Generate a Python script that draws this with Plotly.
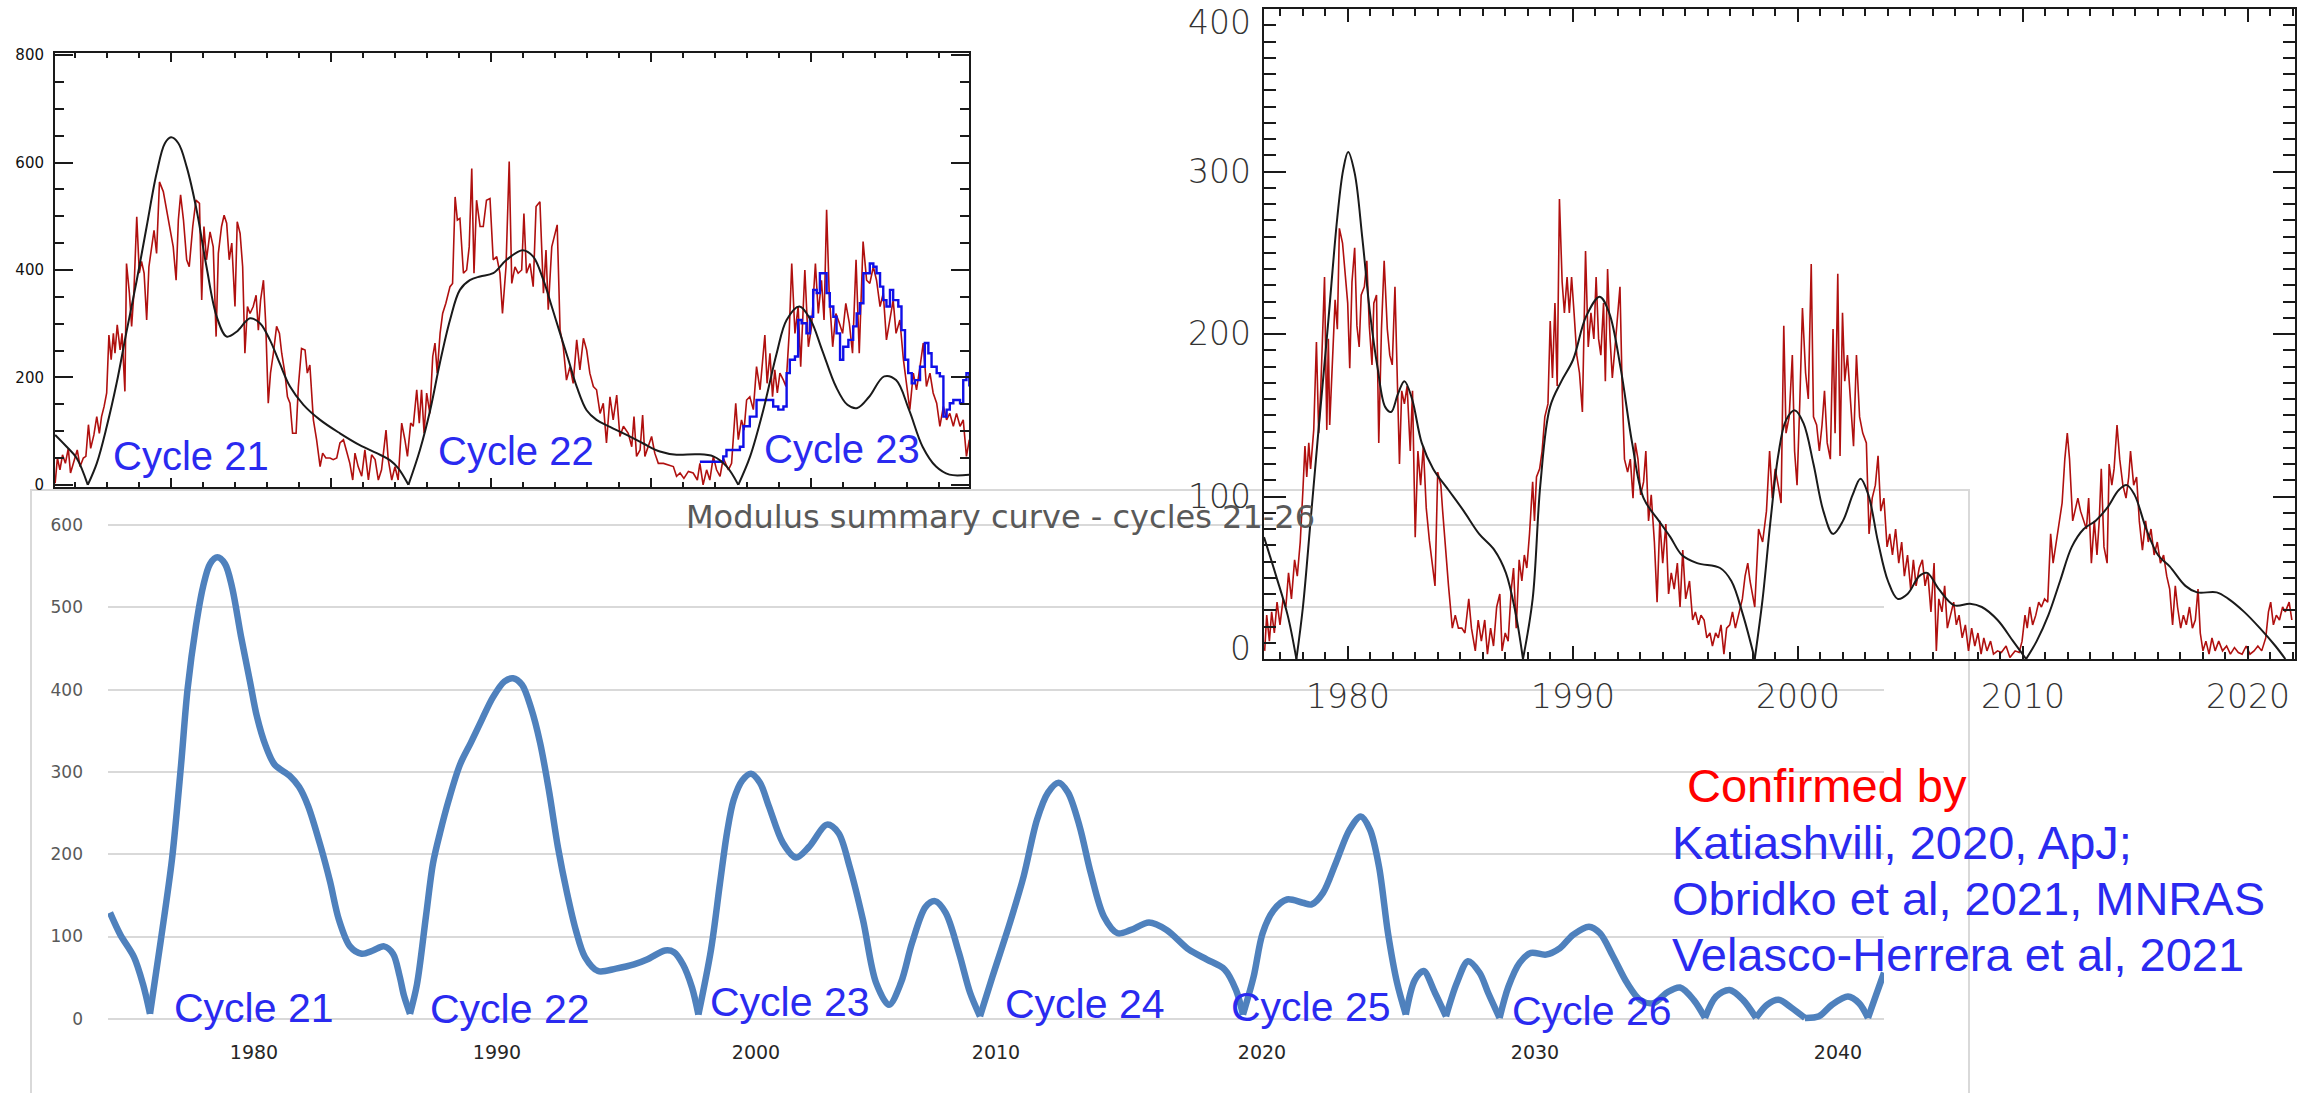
import plotly.graph_objects as go

W, H = 2314, 1093

# ---------------------------------------------------------------- data
# Upper-left panel (monthly series, smoothed fit, second index)
tl_red = [
    (1976.38, 3), (1976.45, 50), (1976.53, 28), (1976.61, 56), (1976.70, 40), (1976.79, 68), (1976.86, 22),
    (1976.97, 47), (1977.07, 65), (1977.16, 34), (1977.26, 50), (1977.34, 53), (1977.42, 112), (1977.49, 68),
    (1977.59, 93), (1977.68, 127), (1977.76, 96), (1977.83, 127), (1977.91, 146), (1977.99, 171), (1978.06, 279),
    (1978.13, 233), (1978.20, 282), (1978.25, 245), (1978.32, 298), (1978.41, 251), (1978.47, 282), (1978.56, 174),
    (1978.61, 412), (1978.70, 357), (1978.77, 295), (1978.84, 357), (1978.93, 499), (1979.01, 394), (1979.08, 416),
    (1979.16, 394), (1979.24, 307), (1979.31, 406), (1979.40, 443), (1979.47, 474), (1979.55, 431), (1979.64, 564),
    (1979.76, 546), (1979.86, 512), (1979.99, 468), (1980.07, 443), (1980.16, 381), (1980.23, 493), (1980.30, 540),
    (1980.39, 493), (1980.49, 419), (1980.57, 406), (1980.68, 481), (1980.78, 530), (1980.89, 524), (1980.96, 344),
    (1981.03, 481), (1981.11, 419), (1981.22, 471), (1981.32, 443), (1981.41, 276), (1981.48, 431), (1981.58, 481),
    (1981.66, 502), (1981.74, 487), (1981.82, 419), (1981.90, 450), (1982.00, 332), (1982.07, 490), (1982.16, 468),
    (1982.24, 406), (1982.31, 245), (1982.39, 332), (1982.47, 319), (1982.57, 332), (1982.66, 353), (1982.73, 288),
    (1982.80, 344), (1982.89, 381), (1982.96, 301), (1983.04, 152), (1983.11, 208), (1983.20, 245), (1983.30, 295),
    (1983.39, 282), (1983.46, 245), (1983.56, 208), (1983.64, 164), (1983.72, 152), (1983.80, 96), (1983.91, 96),
    (1983.98, 183), (1984.08, 254), (1984.19, 251), (1984.26, 208), (1984.34, 223), (1984.45, 121), (1984.55, 84),
    (1984.66, 34), (1984.74, 59), (1984.84, 50), (1984.97, 50), (1985.07, 47), (1985.18, 50), (1985.28, 78),
    (1985.39, 84), (1985.49, 62), (1985.59, 40), (1985.68, 9), (1985.75, 59), (1985.85, 34), (1985.96, 16),
    (1986.06, 65), (1986.17, 9), (1986.27, 56), (1986.38, 47), (1986.48, 9), (1986.58, 28), (1986.72, 102),
    (1986.79, 47), (1986.90, 9), (1987.00, 34), (1987.10, 9), (1987.21, 115), (1987.31, 84), (1987.39, 53),
    (1987.49, 115), (1987.57, 109), (1987.68, 177), (1987.76, 115), (1987.83, 177), (1987.91, 96), (1987.99, 171),
    (1988.09, 133), (1988.18, 239), (1988.25, 264), (1988.32, 208), (1988.41, 282), (1988.49, 319), (1988.59, 338),
    (1988.72, 369), (1988.80, 375), (1988.88, 536), (1988.95, 493), (1989.03, 496), (1989.14, 394), (1989.24, 400),
    (1989.32, 443), (1989.40, 589), (1989.47, 394), (1989.55, 530), (1989.66, 481), (1989.76, 481), (1989.86, 530),
    (1989.97, 533), (1990.07, 419), (1990.18, 425), (1990.28, 394), (1990.36, 319), (1990.47, 406), (1990.57, 602),
    (1990.65, 375), (1990.75, 406), (1990.85, 394), (1990.96, 400), (1991.03, 505), (1991.11, 394), (1991.22, 412),
    (1991.32, 369), (1991.41, 518), (1991.53, 527), (1991.64, 357), (1991.72, 437), (1991.79, 326), (1991.90, 443),
    (1992.00, 468), (1992.07, 484), (1992.16, 288), (1992.26, 257), (1992.36, 195), (1992.47, 220), (1992.57, 189),
    (1992.68, 270), (1992.78, 214), (1992.89, 273), (1992.99, 251), (1993.09, 208), (1993.20, 183), (1993.30, 177),
    (1993.41, 133), (1993.51, 152), (1993.61, 78), (1993.72, 164), (1993.82, 121), (1993.93, 167), (1994.03, 90),
    (1994.14, 109), (1994.29, 96), (1994.40, 71), (1994.47, 127), (1994.55, 53), (1994.66, 65), (1994.74, 130),
    (1994.81, 53), (1994.92, 71), (1995.02, 90), (1995.12, 59), (1995.23, 40), (1995.39, 40), (1995.54, 37),
    (1995.70, 34), (1995.80, 16), (1995.91, 22), (1996.03, 12), (1996.17, 25), (1996.32, 22), (1996.45, 9),
    (1996.53, 40), (1996.63, 0), (1996.74, 28), (1996.84, 9), (1996.95, 53), (1997.05, 28), (1997.16, 16),
    (1997.26, 50), (1997.42, 28), (1997.52, 40), (1997.65, 152), (1997.73, 84), (1997.83, 121), (1997.91, 102),
    (1997.99, 158), (1998.09, 164), (1998.20, 140), (1998.30, 220), (1998.41, 177), (1998.49, 233), (1998.56, 279),
    (1998.63, 189), (1998.72, 245), (1998.80, 164), (1998.87, 214), (1998.95, 171), (1999.03, 208), (1999.14, 195),
    (1999.22, 183), (1999.32, 282), (1999.40, 412), (1999.50, 282), (1999.60, 332), (1999.68, 220), (1999.81, 400),
    (1999.92, 257), (2000.02, 295), (2000.14, 412), (2000.23, 319), (2000.33, 381), (2000.41, 307), (2000.49, 512),
    (2000.57, 357), (2000.68, 257), (2000.78, 319), (2000.89, 301), (2000.99, 282), (2001.09, 338), (2001.20, 301),
    (2001.30, 245), (2001.41, 419), (2001.51, 245), (2001.63, 453), (2001.74, 381), (2001.84, 375), (2001.95, 406),
    (2002.05, 381), (2002.16, 332), (2002.26, 357), (2002.36, 270), (2002.47, 307), (2002.57, 344), (2002.66, 282),
    (2002.78, 307), (2002.89, 233), (2002.99, 183), (2003.09, 140), (2003.20, 208), (2003.30, 177), (2003.41, 220),
    (2003.51, 264), (2003.61, 183), (2003.72, 208), (2003.82, 171), (2003.93, 152), (2004.03, 109), (2004.14, 146),
    (2004.24, 121), (2004.34, 133), (2004.45, 109), (2004.55, 133), (2004.66, 109), (2004.76, 121), (2004.86, 53),
    (2004.95, 84),
]

tl_black = [
    (1976.38, 93), (1976.74, 71), (1977.05, 50), (1977.40, 0), (1977.68, 40), (1977.99, 108), (1978.30, 189),
    (1978.60, 282), (1978.93, 381), (1979.24, 481), (1979.55, 580), (1979.81, 636), (1980.00, 647), (1980.23, 636),
    (1980.49, 592), (1980.80, 512), (1981.11, 406), (1981.43, 313), (1981.74, 276), (1982.05, 285), (1982.47, 310),
    (1982.78, 301), (1983.09, 270), (1983.40, 226), (1983.72, 183), (1984.14, 149), (1984.66, 121), (1985.28, 96),
    (1985.90, 74), (1986.43, 59), (1986.84, 46), (1987.10, 31), (1987.42, 0), (1987.78, 65), (1988.10, 139),
    (1988.40, 226), (1988.72, 307), (1989.03, 363), (1989.34, 381), (1989.66, 388), (1990.07, 394), (1990.49, 419),
    (1990.99, 437), (1991.32, 425), (1991.64, 381), (1991.90, 332), (1992.16, 282), (1992.42, 233), (1992.68, 183),
    (1992.99, 139), (1993.30, 121), (1993.72, 108), (1994.24, 93), (1994.76, 77), (1995.28, 62), (1995.80, 56),
    (1996.43, 57), (1996.95, 53), (1997.37, 34), (1997.73, 0), (1998.10, 53), (1998.51, 139), (1998.93, 245),
    (1999.24, 307), (1999.64, 332), (1999.99, 307), (2000.35, 251), (2000.78, 183), (2001.14, 149), (2001.45, 143),
    (2001.82, 164), (2002.29, 202), (2002.66, 195), (2003.07, 139), (2003.49, 71), (2003.91, 34), (2004.33, 19),
    (2004.95, 19),
]

tl_blue = [
    (1996.53, 43), (1997.26, 53), (1997.36, 65), (1997.78, 71), (1997.89, 109), (1998.09, 127), (1998.30, 158),
    (1998.51, 158), (1998.82, 146), (1998.98, 140), (1999.14, 146), (1999.24, 208), (1999.34, 233), (1999.50, 239),
    (1999.60, 307), (1999.71, 301), (1999.86, 282), (1999.97, 313), (2000.07, 363), (2000.18, 357), (2000.28, 394),
    (2000.39, 394), (2000.49, 357), (2000.59, 332), (2000.70, 313), (2000.80, 282), (2000.91, 233), (2001.01, 257),
    (2001.17, 270), (2001.32, 295), (2001.43, 319), (2001.53, 338), (2001.64, 394), (2001.74, 394), (2001.84, 412),
    (2001.95, 406), (2002.05, 394), (2002.16, 369), (2002.26, 344), (2002.36, 332), (2002.47, 363), (2002.57, 344),
    (2002.73, 332), (2002.83, 288), (2002.94, 233), (2003.04, 208), (2003.15, 189), (2003.25, 195), (2003.41, 220),
    (2003.56, 264), (2003.67, 245), (2003.77, 220), (2003.93, 208), (2004.03, 202), (2004.14, 127), (2004.24, 140),
    (2004.34, 152), (2004.45, 158), (2004.55, 158), (2004.66, 152), (2004.76, 195), (2004.86, 208), (2004.95, 183),
]

# Upper-right panel (monthly series and smoothed fit, 1976-2022)
tr_red = [
    (1976.30, 5), (1976.39, 27), (1976.51, 11), (1976.61, 29), (1976.73, 16), (1976.85, 35), (1976.98, 21),
    (1977.12, 37), (1977.24, 32), (1977.36, 53), (1977.49, 37), (1977.63, 61), (1977.75, 51), (1977.88, 72),
    (1978.00, 104), (1978.09, 131), (1978.17, 112), (1978.26, 133), (1978.34, 117), (1978.48, 141), (1978.60, 195),
    (1978.70, 139), (1978.79, 165), (1978.85, 189), (1978.96, 235), (1979.06, 141), (1979.13, 197), (1979.19, 144),
    (1979.31, 187), (1979.43, 221), (1979.53, 203), (1979.62, 265), (1979.76, 256), (1979.88, 235), (1979.99, 219),
    (1980.08, 179), (1980.18, 232), (1980.30, 253), (1980.40, 205), (1980.50, 192), (1980.59, 224), (1980.73, 229),
    (1980.84, 245), (1980.95, 205), (1981.07, 181), (1981.15, 219), (1981.27, 224), (1981.37, 133), (1981.49, 203),
    (1981.61, 245), (1981.75, 203), (1981.86, 187), (1981.97, 181), (1982.09, 229), (1982.17, 189), (1982.29, 120),
    (1982.39, 165), (1982.51, 157), (1982.63, 168), (1982.77, 128), (1982.87, 165), (1982.99, 75), (1983.11, 128),
    (1983.23, 107), (1983.35, 131), (1983.48, 93), (1983.62, 73), (1983.74, 61), (1983.87, 45), (1983.99, 115),
    (1984.13, 107), (1984.21, 91), (1984.33, 67), (1984.47, 45), (1984.64, 19), (1984.77, 27), (1984.91, 19),
    (1985.06, 19), (1985.20, 16), (1985.37, 37), (1985.49, 19), (1985.66, 5), (1985.79, 24), (1985.93, 11),
    (1986.08, 24), (1986.20, 3), (1986.34, 19), (1986.47, 8), (1986.61, 32), (1986.75, 40), (1986.85, 5),
    (1986.99, 16), (1987.12, 11), (1987.26, 43), (1987.36, 56), (1987.48, 19), (1987.61, 61), (1987.73, 48),
    (1987.84, 64), (1987.95, 56), (1988.07, 77), (1988.21, 109), (1988.29, 85), (1988.38, 112), (1988.52, 117),
    (1988.63, 128), (1988.75, 149), (1988.89, 157), (1988.99, 208), (1989.09, 173), (1989.20, 219), (1989.30, 168),
    (1989.40, 283), (1989.52, 232), (1989.62, 213), (1989.74, 235), (1989.84, 213), (1989.94, 235), (1990.05, 213),
    (1990.17, 187), (1990.29, 176), (1990.42, 152), (1990.56, 251), (1990.68, 192), (1990.80, 213), (1990.93, 197),
    (1991.03, 235), (1991.14, 197), (1991.24, 187), (1991.36, 219), (1991.44, 171), (1991.54, 240), (1991.65, 197),
    (1991.75, 173), (1991.87, 192), (1991.99, 211), (1992.09, 229), (1992.19, 165), (1992.29, 123), (1992.43, 115),
    (1992.55, 123), (1992.67, 99), (1992.77, 133), (1992.89, 123), (1993.01, 101), (1993.14, 109), (1993.24, 128),
    (1993.36, 85), (1993.48, 101), (1993.62, 72), (1993.74, 35), (1993.86, 85), (1993.99, 59), (1994.13, 83),
    (1994.25, 40), (1994.37, 53), (1994.50, 43), (1994.64, 59), (1994.76, 32), (1994.88, 67), (1995.01, 37),
    (1995.18, 48), (1995.32, 24), (1995.44, 29), (1995.58, 21), (1995.69, 27), (1995.83, 24), (1995.95, 13),
    (1996.09, 16), (1996.20, 8), (1996.34, 16), (1996.46, 13), (1996.58, 21), (1996.71, 3), (1996.83, 19),
    (1996.97, 21), (1997.09, 29), (1997.22, 19), (1997.40, 29), (1997.53, 37), (1997.65, 51), (1997.77, 59),
    (1997.87, 48), (1998.08, 32), (1998.25, 80), (1998.43, 72), (1998.60, 91), (1998.74, 128), (1998.86, 99),
    (1998.99, 117), (1999.12, 107), (1999.25, 96), (1999.37, 205), (1999.47, 139), (1999.61, 149), (1999.75, 187),
    (1999.85, 128), (1999.96, 107), (2000.08, 157), (2000.20, 216), (2000.34, 176), (2000.46, 160), (2000.59, 243),
    (2000.69, 149), (2000.83, 144), (2000.95, 128), (2001.07, 144), (2001.18, 165), (2001.30, 133), (2001.44, 123),
    (2001.56, 203), (2001.65, 139), (2001.77, 237), (2001.87, 125), (2001.98, 213), (2002.08, 171), (2002.20, 187),
    (2002.34, 160), (2002.47, 131), (2002.60, 187), (2002.74, 149), (2002.88, 139), (2003.04, 133), (2003.16, 77),
    (2003.30, 99), (2003.44, 107), (2003.56, 125), (2003.68, 91), (2003.82, 99), (2003.96, 69), (2004.08, 77),
    (2004.20, 64), (2004.34, 80), (2004.48, 59), (2004.61, 72), (2004.73, 51), (2004.87, 64), (2005.01, 43),
    (2005.13, 61), (2005.25, 45), (2005.39, 56), (2005.53, 61), (2005.65, 45), (2005.77, 53), (2005.91, 29),
    (2006.05, 59), (2006.15, 5), (2006.26, 37), (2006.40, 29), (2006.52, 45), (2006.64, 19), (2006.78, 27),
    (2006.92, 35), (2007.04, 21), (2007.16, 27), (2007.30, 13), (2007.44, 21), (2007.58, 5), (2007.72, 19),
    (2007.86, 8), (2008.00, 16), (2008.14, 3), (2008.26, 13), (2008.40, 5), (2008.56, 11), (2008.69, 3),
    (2008.87, 5), (2009.04, 4), (2009.25, 8), (2009.42, 1), (2009.65, 5), (2009.83, 4), (2009.96, 11),
    (2010.09, 27), (2010.19, 19), (2010.30, 32), (2010.43, 21), (2010.57, 27), (2010.70, 35), (2010.82, 32),
    (2010.96, 37), (2011.10, 35), (2011.23, 77), (2011.34, 59), (2011.48, 72), (2011.62, 83), (2011.74, 96),
    (2011.86, 123), (2011.97, 139), (2012.07, 123), (2012.21, 85), (2012.31, 91), (2012.44, 99), (2012.56, 91),
    (2012.70, 85), (2012.82, 80), (2012.92, 99), (2013.04, 59), (2013.17, 85), (2013.29, 64), (2013.39, 85),
    (2013.48, 117), (2013.60, 69), (2013.74, 59), (2013.83, 120), (2013.95, 107), (2014.05, 117), (2014.18, 144),
    (2014.30, 123), (2014.44, 107), (2014.58, 99), (2014.70, 112), (2014.78, 128), (2014.92, 107), (2015.05, 112),
    (2015.17, 85), (2015.31, 67), (2015.45, 85), (2015.57, 72), (2015.69, 80), (2015.83, 64), (2015.97, 72),
    (2016.11, 59), (2016.25, 64), (2016.39, 51), (2016.52, 43), (2016.65, 21), (2016.77, 45), (2016.87, 32),
    (2017.01, 19), (2017.13, 27), (2017.26, 21), (2017.40, 32), (2017.53, 19), (2017.66, 24), (2017.78, 43),
    (2017.88, 16), (2018.00, 5), (2018.13, 11), (2018.27, 3), (2018.40, 13), (2018.54, 5), (2018.70, 11),
    (2018.87, 5), (2019.05, 8), (2019.22, 3), (2019.40, 7), (2019.57, 4), (2019.74, 3), (2019.92, 8),
    (2020.09, 3), (2020.27, 5), (2020.44, 8), (2020.61, 5), (2020.79, 13), (2020.91, 29), (2021.01, 35),
    (2021.13, 21), (2021.26, 27), (2021.40, 24), (2021.54, 32), (2021.66, 29), (2021.83, 35), (2021.95, 24),
]

tr_black = [
    (1976.27, 75), (1976.81, 51), (1977.32, 27), (1977.71, 0), (1978.00, 32), (1978.34, 85), (1978.68, 139),
    (1979.11, 205), (1979.53, 272), (1979.79, 301), (1980.01, 312), (1980.30, 299), (1980.64, 259), (1980.98, 213),
    (1981.32, 179), (1981.66, 155), (1981.92, 152), (1982.22, 163), (1982.51, 171), (1982.85, 160), (1983.28, 133),
    (1983.79, 117), (1984.47, 104), (1985.15, 91), (1985.83, 77), (1986.51, 67), (1987.02, 53), (1987.44, 29),
    (1987.78, 0), (1988.21, 37), (1988.55, 107), (1988.98, 155), (1989.49, 171), (1990.00, 184), (1990.59, 211),
    (1991.19, 223), (1991.61, 213), (1992.12, 179), (1992.63, 133), (1993.14, 99), (1993.82, 85), (1994.33, 75),
    (1994.84, 64), (1995.52, 59), (1996.54, 56), (1997.04, 48), (1997.56, 27), (1998.08, 0), (1998.43, 37),
    (1998.78, 85), (1999.12, 125), (1999.47, 147), (1999.87, 153), (2000.25, 145), (2000.69, 120), (2001.13, 91),
    (2001.56, 77), (2002.00, 85), (2002.43, 101), (2002.78, 111), (2003.13, 101), (2003.56, 72), (2004.00, 48),
    (2004.43, 37), (2004.87, 40), (2005.39, 51), (2005.74, 53), (2006.26, 43), (2006.95, 33), (2007.65, 34),
    (2008.17, 32), (2008.87, 24), (2009.56, 11), (2010.14, 0), (2010.61, 11), (2011.13, 27), (2011.65, 48),
    (2012.17, 69), (2012.70, 80), (2013.22, 85), (2013.74, 93), (2014.26, 104), (2014.61, 107), (2014.96, 101),
    (2015.48, 80), (2016.00, 64), (2016.52, 57), (2017.22, 45), (2017.74, 41), (2018.61, 41), (2019.13, 37),
    (2019.83, 29), (2020.53, 19), (2021.22, 8), (2021.66, 0),
]
tr_y_ticks = [0, 100, 200, 300, 400]

# Lower panel: modulus summary curve on a category (sample-position) axis
summary_curve = [
    (0.5, 129), (3.1, 102), (6.5, 75), (8.75, 42), (10.5, 6), (13.25, 97), (16, 194), (18.25, 308), (19.9, 401),
    (22, 478), (23.75, 525), (25.5, 553), (27.35, 561), (29.25, 553), (31, 525), (33.25, 465), (35.5, 410),
    (37.2, 368), (39.4, 332), (41.65, 309), (45.5, 295), (47.75, 282), (50, 259), (53.25, 208), (55.5, 167),
    (57.75, 120), (60.5, 88), (63.4, 79), (66.25, 83), (69, 88), (71.25, 79), (72.9, 52), (74, 28), (75.5, 6),
    (77.25, 42), (79.5, 125), (81.25, 189), (83, 226), (85.25, 267), (88, 309), (90.75, 336), (93.5, 364),
    (96.25, 391), (99.1, 410), (101.25, 414), (103.5, 406), (105.75, 378), (108, 336), (110.25, 277),
    (112.5, 208), (114.75, 153), (117, 107), (119.25, 75), (122.5, 58), (127, 61), (131.5, 66), (134.75, 72),
    (139.25, 83), (141.5, 81), (143.75, 66), (146, 38), (147.6, 5), (150.75, 84), (153, 165), (154.75, 226),
    (156.4, 266), (158.6, 290), (160.75, 298), (163, 287), (165.25, 258), (168.7, 214), (172, 196),
    (175.25, 209), (179.75, 236), (182.6, 226), (185.4, 185), (188.75, 120), (192, 44), (195.25, 17),
    (198.25, 44), (201, 92), (204.4, 136), (206.75, 143), (209.4, 129), (212.75, 80), (215.5, 32), (218, 3),
    (221.1, 51), (225.5, 117), (228.9, 173), (232.25, 242), (235, 275), (237.65, 287), (240, 275), (242.9, 234),
    (245.7, 177), (249, 124), (252.4, 104), (255.75, 108), (260.25, 117), (264.65, 108), (270.25, 84),
    (274.75, 72), (279.15, 60), (282, 35), (283.75, 5), (286.4, 51), (288.65, 104), (291.4, 132), (294.75, 145),
    (298.7, 141), (300.9, 139), (303.75, 153), (307, 190), (310.4, 230), (313.2, 246), (315.5, 230),
    (317.75, 185), (320, 104), (322.25, 44), (324.45, 5), (326.7, 47), (328.9, 58), (331.7, 32), (334.5, 3),
    (337.25, 44), (340, 70), (342.9, 56), (345, 32), (347.9, 1), (350.1, 39), (352.9, 68), (355.75, 80),
    (359.5, 78), (363, 86), (366.25, 102), (370.25, 112), (373, 104), (376.25, 76), (379.7, 44), (383, 23),
    (386.4, 19), (389.75, 32), (393, 38), (396.4, 23), (399.25, 1), (402, 27), (405.4, 35), (408.75, 23),
    (412, 1), (414.75, 17), (417.65, 23), (421, 13), (424.25, 1), (427.75, 3), (431, 17), (435, 27),
    (437.75, 19), (440, 1), (442.25, 32), (444, 56),
]
summary_tick_pos = [36.5, 97.25, 162, 222, 288.5, 356.75, 432.5]
summary_tick_year = [1980, 1990, 2000, 2010, 2020, 2030, 2040]

cycle_names_top = ["Cycle 21", "Cycle 22", "Cycle 23"]
cycle_names_bottom = ["Cycle 21", "Cycle 22", "Cycle 23", "Cycle 24", "Cycle 25", "Cycle 26"]
references = ["Katiashvili, 2020, ApJ;", "Obridko et al, 2021, MNRAS", "Velasco-Herrera et al, 2021"]


# ---------------------------------------------------------------- helpers
def px_x(p):
    return p / W


def px_y(p):
    return 1 - p / H


def unzip(pairs):
    return [p[0] for p in pairs], [p[1] for p in pairs]


def split_at_minima(pairs, limit):
    """Split a curve at its sharp minima so that each arch is smoothed on its own."""
    xs, ys = unzip(pairs)
    parts, start = [], 0
    for i in range(1, len(ys) - 1):
        if ys[i] <= limit and ys[i] <= ys[i - 1] and ys[i] <= ys[i + 1]:
            parts.append((xs[start:i + 1], ys[start:i + 1]))
            start = i
    parts.append((xs[start:], ys[start:]))
    return parts


BLUE_TXT = "#2a2af0"
SANS = "Liberation Sans, Arial, sans-serif"
DEJA = "DejaVu Sans, sans-serif"
IDL_FONT = dict(family=DEJA, size=33, color="#333", weight=200)

fig = go.Figure()

# lower panel curve
for xs, ys in split_at_minima(summary_curve, 6):
    fig.add_trace(go.Scatter(x=xs, y=ys, mode="lines", xaxis="x", yaxis="y",
                             line=dict(color="#4f81bd", width=6.5, shape="spline", smoothing=0.9),
                             hoverinfo="skip"))

# upper-left panel
x, y = unzip(tl_red)
fig.add_trace(go.Scatter(x=x, y=y, mode="lines", xaxis="x2", yaxis="y2",
                         line=dict(color="#b0100f", width=1.6)))
x, y = unzip(tl_blue)
fig.add_trace(go.Scatter(x=x, y=y, mode="lines", xaxis="x2", yaxis="y2",
                         line=dict(color="#1010e8", width=2.4, shape="hv")))
for xs, ys in split_at_minima(tl_black, 0):
    fig.add_trace(go.Scatter(x=xs, y=ys, mode="lines", xaxis="x2", yaxis="y2",
                             line=dict(color="#1a1a1a", width=2, shape="spline", smoothing=1.0)))

# upper-right panel
x, y = unzip(tr_red)
fig.add_trace(go.Scatter(x=x, y=y, mode="lines", xaxis="x3", yaxis="y3",
                         line=dict(color="#b0100f", width=1.6)))
for xs, ys in split_at_minima(tr_black, 0):
    fig.add_trace(go.Scatter(x=xs, y=ys, mode="lines", xaxis="x3", yaxis="y3",
                             line=dict(color="#1a1a1a", width=2, shape="spline", smoothing=1.0)))

frame = dict(showline=True, linecolor="#1a1a1a", linewidth=2, mirror="ticks", ticks="inside",
             tickcolor="#1a1a1a", tickwidth=1.5, showgrid=False, zeroline=False, automargin=False)

fig.update_layout(
    width=W, height=H, autosize=False,
    margin=dict(l=0, r=0, t=0, b=0, pad=0),
    paper_bgcolor="white", plot_bgcolor="rgba(0,0,0,0)",
    showlegend=False,
    xaxis=dict(domain=[px_x(108), px_x(1884)], range=[0, 444], anchor="y", automargin=False,
               showgrid=False, zeroline=False, showline=False, ticks="",
               tickmode="array", tickvals=summary_tick_pos, ticktext=[str(v) for v in summary_tick_year],
               tickfont=dict(family=DEJA, size=19, color="#262626"), ticklabelstandoff=12),
    yaxis=dict(domain=[px_y(1027), px_y(517)], range=[-10, 610], anchor="x", automargin=False,
               tickmode="array", tickvals=[0, 100, 200, 300, 400, 500, 600],
               showgrid=True, gridcolor="#d9d9d9", gridwidth=2, zeroline=False, showline=False, ticks="",
               tickfont=dict(family=DEJA, size=17, color="#595959"), ticklabelstandoff=24),
    xaxis2=dict(domain=[px_x(55), px_x(969)], range=[1976.375, 2004.94], anchor="y2",
                tick0=1980, dtick=5, ticklen=9, showticklabels=False,
                minor=dict(dtick=1, ticklen=5, ticks="inside", tickcolor="#1a1a1a", tickwidth=1.5),
                **frame),
    yaxis2=dict(domain=[px_y(487), px_y(53)], range=[-4, 804], anchor="x2",
                tick0=0, dtick=200, ticklen=18,
                minor=dict(dtick=50, ticklen=9, ticks="inside", tickcolor="#1a1a1a", tickwidth=1.5),
                tickfont=dict(family=DEJA, size=15, color="#111"), ticklabelstandoff=6,
                **frame),
    xaxis3=dict(domain=[px_x(1264), px_x(2295)], range=[1976.27, 2022.09], anchor="y3",
                tick0=1980, dtick=10, ticklen=13,
                minor=dict(dtick=1, ticklen=7, ticks="inside", tickcolor="#1a1a1a", tickwidth=1.5),
                tickfont=IDL_FONT, ticklabelstandoff=7,
                **frame),
    yaxis3=dict(domain=[px_y(659), px_y(9)], range=[0, 400], anchor="x3",
                tick0=0, dtick=100, ticklen=22, showticklabels=False,
                minor=dict(dtick=10, ticklen=12, ticks="inside", tickcolor="#1a1a1a", tickwidth=1.5),
                **frame),
)

# frame of the lower panel
fig.add_shape(type="rect", xref="paper", yref="paper",
              x0=px_x(31), x1=px_x(1969), y0=px_y(1130), y1=px_y(490),
              line=dict(color="#d9d9d9", width=2), layer="below")

annotations = [
    dict(text="Modulus summary curve - cycles 21-26", x=px_x(1000), y=px_y(517),
         xanchor="center", yanchor="middle", font=dict(family=DEJA, size=32, color="#595959")),
]
# value labels of the upper-right axis; the end labels sit just inside the frame
for v in tr_y_ticks:
    shift = -14 if v == tr_y_ticks[-1] else (11 if v == tr_y_ticks[0] else 0)
    annotations.append(dict(text=str(v), x=px_x(1252), y=v, yref="y3", xanchor="right", yanchor="middle",
                            yshift=shift, font=IDL_FONT))
for name, left, mid in zip(cycle_names_top, [112, 437, 763], [456, 451, 449]):
    annotations.append(dict(text=name, x=px_x(left), y=px_y(mid), xanchor="left", yanchor="middle",
                            font=dict(family=SANS, size=40, color=BLUE_TXT)))
for name, left, mid in zip(cycle_names_bottom, [173, 429, 709, 1004, 1230, 1511],
                           [1008, 1009, 1002, 1004, 1007, 1011]):
    annotations.append(dict(text=name, x=px_x(left), y=px_y(mid), xanchor="left", yanchor="middle",
                            font=dict(family=SANS, size=41, color=BLUE_TXT)))
annotations.append(dict(text="Confirmed by", x=px_x(1686), y=px_y(785), xanchor="left", yanchor="middle",
                        font=dict(family=SANS, size=47, color="#ff0000")))
for line, mid in zip(references, [842, 898, 954]):
    annotations.append(dict(text=line, x=px_x(1671), y=px_y(mid), xanchor="left", yanchor="middle",
                            font=dict(family=SANS, size=47, color=BLUE_TXT)))
for a in annotations:
    a.setdefault("yref", "paper")
    a.update(xref="paper", showarrow=False, borderpad=0)
fig.update_layout(annotations=annotations)

fig.write_html("out.html")
